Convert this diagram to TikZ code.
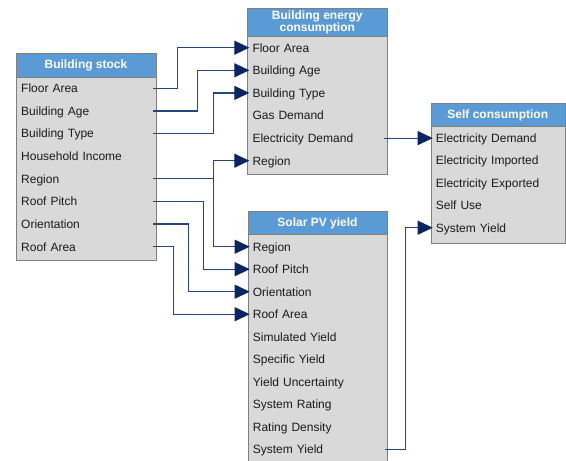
\documentclass[tikz,border=0pt]{standalone}
\usepackage{fontspec}
\setmainfont{Liberation Sans}
\usetikzlibrary{arrows.meta}
\definecolor{hdr}{HTML}{5B9BD5}
\definecolor{bodyc}{HTML}{D9D9D9}
\definecolor{brd}{HTML}{7F7F7F}
\definecolor{linec}{HTML}{26457F}
\definecolor{arrc}{HTML}{0B2463}
\definecolor{txt}{HTML}{1A1A1A}
\begin{document}
\begin{tikzpicture}[x=1pt,y=-1pt,
  box/.style={draw=brd, fill=bodyc, line width=0.9pt, anchor=north west, inner sep=0pt},
  hdrbox/.style={draw=brd, fill=hdr, line width=0.9pt, anchor=north west, inner sep=0pt},
  hdrtext/.style={text=white, font=\fontsize{12}{11}\selectfont\bfseries, align=center, inner sep=0pt},
  row/.style={anchor=west, inner xsep=5pt, inner ysep=0pt, text height=8.6pt, text depth=0pt,
    font=\fontsize{12}{14}\selectfont, text=txt, text width=#1, align=left},
  link/.style={draw=linec, line width=1.2pt},
  arr/.style={link, -{Triangle[length=15pt,width=14pt,color=arrc]}},
]
\clip (0,0) rectangle (566,461);

% Building stock
\node[box, minimum width=140pt, minimum height=207.3pt] (bs) at (16,52.7) {};
\node[hdrbox, minimum width=140pt, minimum height=24pt] (bsh) at (16,52.7) {};
\node[hdrtext, text height=8.6pt, text depth=0pt] (bst) at (86,64.3) {Building stock};
\foreach \t [count=\i] in {Floor Area, Building Age, Building Type, Household Income, Region, Roof Pitch, Orientation, Roof Area}
  \node[row=130pt] (bs\i) at (16,{88.3+22.63*(\i-1)}) {\t};

% Building energy consumption
\node[box, minimum width=140pt, minimum height=165.7pt] (bec) at (247.3,8.3) {};
\node[hdrbox, minimum width=140pt, minimum height=27.7pt] (bech) at (247.3,8.3) {};
\node[hdrtext] (bect) at (317.3,22.6) {Building energy\\consumption};
\foreach \t [count=\i] in {Floor Area, Building Age, Building Type, Gas Demand, Electricity Demand, Region}
  \node[row=130pt] (bec\i) at (247.3,{47.7+22.6*(\i-1)}) {\t};

% Solar PV yield
\node[box, minimum width=139.6pt, minimum height=260pt] (sol) at (247.7,211) {};
\node[hdrbox, minimum width=139.6pt, minimum height=23.3pt] (solh) at (247.7,211) {};
\node[hdrtext, text height=8.6pt, text depth=0pt] (solt) at (317.5,222) {Solar PV yield};
\foreach \t [count=\i] in {Region, Roof Pitch, Orientation, Roof Area, Simulated Yield, Specific Yield, Yield Uncertainty, System Rating, Rating Density, System Yield}
  \node[row=129.6pt] (sol\i) at (247.7,{246.7+22.5*(\i-1)}) {\t};

% Self consumption
\node[box, minimum width=134.3pt, minimum height=140pt] (sc) at (430.7,102.7) {};
\node[hdrbox, minimum width=134.3pt, minimum height=23pt] (sch) at (430.7,102.7) {};
\node[hdrtext, text height=8.6pt, text depth=0pt] (sct) at (497.8,114.2) {Self consumption};
\foreach \t [count=\i] in {Electricity Demand, Electricity Imported, Electricity Exported, Self Use, System Yield}
  \node[row=124.3pt] (sc\i) at (430.7,{138.3+22.35*(\i-1)}) {\t};

% connectors
\draw[arr] ([xshift=-3.3pt]bs1.east) -- ++(24,0) |- ([xshift=2pt]bec1.west);
\draw[arr] ([xshift=-3.3pt]bs2.east) -- ++(44,0) |- ([xshift=2pt]bec2.west);
\draw[arr] ([xshift=-3.3pt]bs3.east) -- ++(60.6,0) |- ([xshift=2pt]bec3.west);
\draw[arr] ([xshift=-3.3pt]bs5.east) -- ++(60.6,0) |- ([xshift=2pt]bec6.west);
\draw[arr] ([xshift=-3.3pt]bs5.east) -- ++(60.6,0) |- ([xshift=2pt]sol1.west);
\draw[arr] ([xshift=-3.3pt]bs6.east) -- ++(50,0) |- ([xshift=2pt]sol2.west);
\draw[arr] ([xshift=-3.3pt]bs7.east) -- ++(35.6,0) |- ([xshift=2pt]sol3.west);
\draw[arr] ([xshift=-3.3pt]bs8.east) -- ++(20,0) |- ([xshift=2pt]sol4.west);
\draw[arr] ([xshift=-3.3pt]bec5.east) -- ([xshift=2pt]bec5.east -| sc1.west);
\draw[arr] ([xshift=-3pt]sol10.east) -- ++(20.7,0) |- ([xshift=2pt]sc5.west);
\end{tikzpicture}
\end{document}
